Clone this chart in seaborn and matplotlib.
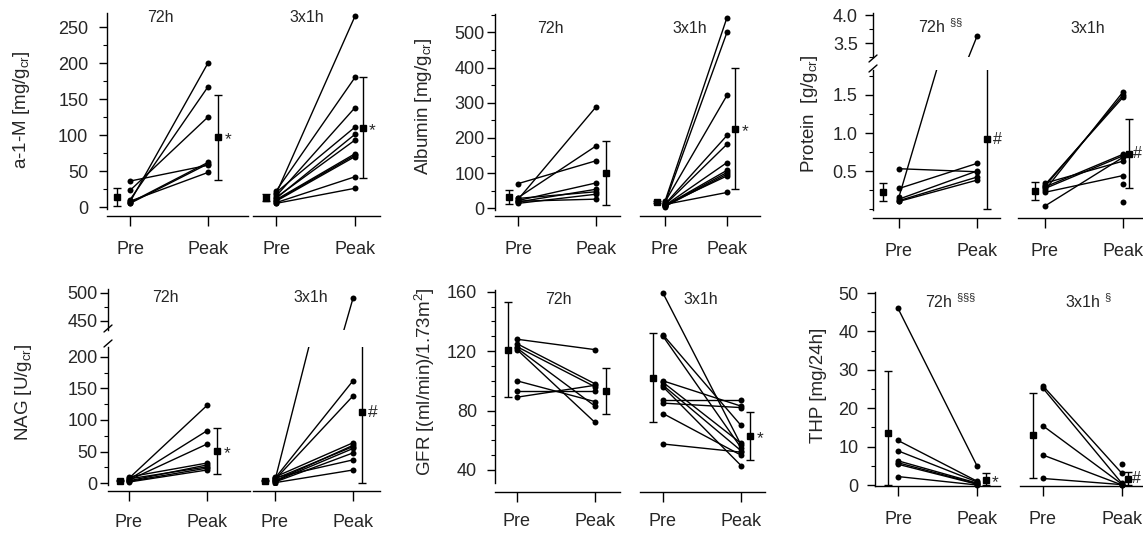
import numpy as np
import pandas as pd
import seaborn as sns
import matplotlib.pyplot as plt
from matplotlib.lines import Line2D
from matplotlib.ticker import FixedLocator, FormatStrFormatter

# ---- values (Pre -> Peak per subject, group mean and SD) ----
a1m_72h_pre = [7, 10, 23, 36, 6, 5, 8]
a1m_72h_peak = [200, 167, 125, 58, 62, 60, 48]
a1m_72h_mean = [14, 97]
a1m_72h_sd = [12, 59]
a1m_3x_pre = [18, 22, 15, 20, 12, 13, 10, 9, 8, 6, 5]
a1m_3x_peak = [265, 180, 138, 111, 101, 93, 74, 72, 70, 42, 26]
a1m_3x_mean = [13, 110]
a1m_3x_sd = [5, 70]

alb_72h_pre = [70, 25, 30, 22, 18, 28, 14, 20]
alb_72h_peak = [135, 288, 177, 72, 54, 47, 40, 26]
alb_72h_mean = [32, 100]
alb_72h_sd = [20, 92]
alb_3x_pre = [20, 15, 18, 12, 10, 8, 7, 6, 5, 9, 11]
alb_3x_peak = [542, 500, 321, 207, 182, 130, 108, 102, 97, 92, 45]
alb_3x_mean = [17, 226]
alb_3x_sd = [3, 172]

prot_72h_pre = [0.53, 0.27, 0.13, 0.11, 0.10, 0.16]
prot_72h_peak = [0.49, 0.60, 0.50, 0.42, 0.38, 3.62]
prot_72h_mean = [0.22, 0.92]
prot_72h_sd = [0.12, 1.26]
prot_3x_pre = [0.25, 0.30, 0.32, 0.29, 0.27, 0.04, 0.34, 0.22, np.nan, np.nan]
prot_3x_peak = [1.54, 1.50, 1.47, 0.72, 0.70, 0.68, 0.63, 0.44, 0.33, 0.09]
prot_3x_mean = [0.24, 0.73]
prot_3x_sd = [0.12, 0.45]

nag_72h_pre = [8, 6, 5, 10, 4, 7, 3, 2]
nag_72h_peak = [123, 83, 62, 32, 29, 26, 24, 21]
nag_72h_mean = [4, 51]
nag_72h_sd = [1, 36]
nag_3x_pre = [5, 8, 6, 10, 4, 7, 3, 2, 9, 1]
nag_3x_peak = [490, 162, 138, 64, 60, 58, 55, 48, 37, 21]
nag_3x_mean = [4, 112]
nag_3x_sd = [1, 135]

gfr_72h_pre = [128, 125, 123, 122, 121, 100, 93, 89]
gfr_72h_peak = [121, 98, 96, 83, 72, 86, 93, 97]
gfr_72h_mean = [121, 93]
gfr_72h_sd = [32, 15.5]
gfr_3x_pre = [159, 131, 130, 100, 99, 97, 96, 87, 85, 78, 57.5]
gfr_3x_peak = [57, 70, 55, 83, 58, 53, 43, 87, 82, 50, 52]
gfr_3x_mean = [102, 63]
gfr_3x_sd = [30, 16]

thp_72h_pre = [46, 11.6, 8.9, 6.3, 5.8, 5.4, 2.2]
thp_72h_peak = [5.0, 1.0, 0.8, 0.5, 0.3, 0.2, 0.0]
thp_72h_mean = [13.5, 1.4]
thp_72h_sd = [16.2, 1.6]
thp_3x_pre = [25.8, 25.2, 15.4, 7.8, 1.7, np.nan]
thp_3x_peak = [3.0, 0.4, 0.2, 0.0, 0.1, 5.4]
thp_3x_mean = [12.9, 1.6]
thp_3x_sd = [11, 1.8]

time_labels = ['Pre', 'Peak']

sns.set_theme(style='ticks')
plt.rcParams['font.family'] = ['Liberation Sans', 'DejaVu Sans']
plt.rcParams['mathtext.fontset'] = 'custom'
plt.rcParams['mathtext.rm'] = 'Liberation Sans'
plt.rcParams['mathtext.it'] = 'Liberation Sans:italic'
plt.rcParams['mathtext.bf'] = 'Liberation Sans:bold'
plt.rcParams['mathtext.default'] = 'regular'

W, H = 1143, 533
fig = plt.figure(figsize=(W / 100, H / 100), dpi=100)
fig.patch.set_facecolor('white')


def make_ax(xs, top, bottom, ymap):
    # xs = (left, right, pre tick, peak tick) in pixels; ymap = (value, pixel, px per unit)
    left, right, pre_px, peak_px = xs
    ax = fig.add_axes([left / W, 1 - bottom / H, (right - left) / W, (bottom - top) / H])
    ax.set_facecolor('none')
    s = peak_px - pre_px
    v0, y0, sc = ymap
    ax.set_xlim((left - pre_px) / s, (right - pre_px) / s)
    ax.set_ylim(v0 + (y0 - bottom) / sc, v0 + (y0 - top) / sc)
    return ax


def long_df(pre, peak):
    n = len(pre)
    return pd.DataFrame({
        'subject': list(range(n)) * 2,
        'time': [0] * n + [1] * n,
        'value': list(pre) + list(peak),
    }).dropna()


def draw_lines(ax, pre, peak):
    xl, yl = ax.get_xlim(), ax.get_ylim()
    sns.lineplot(data=long_df(pre, peak), x='time', y='value', units='subject',
                 estimator=None, color='black', lw=1.0, marker='o', markersize=4.3,
                 markeredgewidth=0, ax=ax, legend=False)
    ax.set_xlim(xl)
    ax.set_ylim(yl)
    ax.set_xlabel('')
    ax.set_ylabel('')


def draw_means(ax, mean, sd, offs, sym, sym_dx=4.5, sym_size=12.5):
    mean = np.asarray(mean, dtype=float)
    sd = np.asarray(sd, dtype=float)
    xm = [offs[0], 1 + offs[1]]
    ax.errorbar(xm, mean, yerr=[np.minimum(sd, mean), sd], fmt='s', color='black',
                ms=4.6, lw=1.0, capsize=2.6, capthick=1.0)
    if sym:
        ax.annotate(sym, (xm[1], mean[1]), xytext=(sym_dx, -2 if sym == '*' else 0),
                    textcoords='offset points', ha='left', va='center', fontsize=sym_size)


def style(ax, yaxis=True, xaxis=True, off_px=0, major=None, minor=None, fmt=None,
          ypad=3.5, xpad=10):
    for side in ['top', 'right']:
        ax.spines[side].set_visible(False)
    for side in ['left', 'bottom']:
        ax.spines[side].set_color('black')
        ax.spines[side].set_linewidth(1.0)
    if yaxis:
        ax.yaxis.set_major_locator(FixedLocator(major))
        ax.yaxis.set_minor_locator(FixedLocator(minor))
        if fmt:
            ax.yaxis.set_major_formatter(FormatStrFormatter(fmt))
        ax.tick_params(axis='y', which='major', direction='out', length=5.5, width=1.0,
                       labelsize=13, pad=ypad, color='black')
        ax.tick_params(axis='y', which='minor', direction='out', length=3, width=0.8,
                       color='black')
    else:
        ax.spines['left'].set_visible(False)
        ax.tick_params(axis='y', which='both', left=False, labelleft=False)
    if xaxis:
        ax.spines['bottom'].set_position(('outward', off_px * 0.72))
        ax.set_xticks([0, 1], time_labels)
        ax.tick_params(axis='x', which='major', direction='out', length=7.5, width=1.0,
                       labelsize=13, pad=xpad, color='black')
    else:
        ax.spines['bottom'].set_visible(False)
        ax.tick_params(axis='x', which='both', bottom=False, labelbottom=False)
    ax.grid(False)


def unclip(ax):
    for art in ax.lines + ax.collections:
        art.set_clip_on(False)


def fig_line(x0, y0, x1, y1):
    fig.add_artist(Line2D([x0 / W, x1 / W], [1 - y0 / H, 1 - y1 / H], color='black',
                          lw=1.0, transform=fig.transFigure))


def title(x, y, s):
    fig.text(x / W, 1 - y / H, s, ha='left', va='baseline', fontsize=11.5)


def ylabel(x, y, s):
    fig.text(x / W, 1 - y / H, s, rotation=90, ha='center', va='center', fontsize=13.5)


# ---------- a-1-M ----------
ymap = (0, 207, 0.72)
ax = make_ax((107, 248, 130, 208), 13, 209, ymap)
draw_lines(ax, a1m_72h_pre, a1m_72h_peak)
draw_means(ax, a1m_72h_mean, a1m_72h_sd, (-0.167, 0.128), '*')
style(ax, True, True, 7, np.arange(0, 251, 50), np.arange(25, 270, 50), ypad=8, xpad=10.3)
unclip(ax)
ax = make_ax((253, 380, 276, 355), 13, 209, ymap)
draw_lines(ax, a1m_3x_pre, a1m_3x_peak)
draw_means(ax, a1m_3x_mean, a1m_3x_sd, (-0.127, 0.10), '*')
style(ax, False, True, 7, xpad=10.3)
unclip(ax)
ylabel(22, 110, 'a-1-M [mg/g$_{cr}$]')
title(147, 21.5, '72h')
title(289, 21.5, '3x1h')

# ---------- Albumin ----------
ymap = (0, 208.3, 0.352)
ax = make_ax((495, 620, 518, 596), 14, 210, ymap)
draw_lines(ax, alb_72h_pre, alb_72h_peak)
draw_means(ax, alb_72h_mean, alb_72h_sd, (-0.115, 0.128), '')
style(ax, True, True, 6, np.arange(0, 501, 100), np.arange(50, 551, 100), ypad=2, xpad=10.8)
unclip(ax)
ax = make_ax((640, 760, 665, 727), 14, 210, ymap)
draw_lines(ax, alb_3x_pre, alb_3x_peak)
draw_means(ax, alb_3x_mean, alb_3x_sd, (-0.13, 0.13), '*')
style(ax, False, True, 6, xpad=10.8)
unclip(ax)
ylabel(423, 106, 'Albumin [mg/g$_{cr}$]')
title(537, 32.5, '72h')
title(672, 32.5, '3x1h')

# ---------- Protein (broken axis) ----------
low_map = (0.5, 171, 76)
up_map = (3.5, 43, 56)
for xs, pre, peak, mean, sd, offs, yax, dx in [
        ((873, 1000, 899, 977), prot_72h_pre, prot_72h_peak, prot_72h_mean, prot_72h_sd,
         (-0.205, 0.128), True, 4.5),
        ((1018, 1143, 1045, 1123), prot_3x_pre, prot_3x_peak, prot_3x_mean, prot_3x_sd,
         (-0.128, 0.08), False, 2.5)]:
    ax = make_ax(xs, 70, 210, low_map)
    draw_lines(ax, pre, peak)
    draw_means(ax, mean, sd, offs, '#', sym_dx=dx, sym_size=11.5)
    style(ax, yax, True, 8, [0.5, 1.0, 1.5], [0.0, 0.25, 0.75, 1.25, 1.75], '%.1f',
          ypad=5.5, xpad=10.3)
    ax = make_ax(xs, 13, 57, up_map)
    draw_lines(ax, pre, peak)
    style(ax, yax, False, 0, [3.5, 4.0], [3.25, 3.75], '%.1f', ypad=5.5)
fig_line(869, 62, 877, 55)
fig_line(869, 72, 877, 65)
ylabel(810, 114, 'Protein  [g/g$_{cr}$]')
title(918, 32.5, r'72h $^{\S\S}$')
title(1070, 32.5, '3x1h')

# ---------- NAG (broken axis) ----------
low_map = (0, 483.3, 0.633)
up_map = (500, 292.7, 0.56)
for xs, pre, peak, mean, sd, offs, sym, yax in [
        ((108, 250, 129, 207), nag_72h_pre, nag_72h_peak, nag_72h_mean, nag_72h_sd,
         (-0.115, 0.128), '*', True),
        ((253, 380, 275, 353), nag_3x_pre, nag_3x_peak, nag_3x_mean, nag_3x_sd,
         (-0.128, 0.115), '#', False)]:
    ax = make_ax(xs, 347, 485, low_map)
    draw_lines(ax, pre, peak)
    draw_means(ax, mean, sd, offs, sym)
    style(ax, yax, True, 6, np.arange(0, 201, 50), np.arange(25, 216, 50), ypad=2, xpad=9.3)
    ax = make_ax(xs, 289, 330, up_map)
    draw_lines(ax, pre, peak)
    style(ax, yax, False, 0, [450, 500], [475], ypad=2)
fig_line(104, 332, 112, 325)
fig_line(104, 347, 112, 340)
ylabel(23, 392, 'NAG [U/g$_{cr}$]')
title(152, 302.5, '72h')
title(293, 302.5, '3x1h')

# ---------- GFR ----------
ymap = (40, 470, 1.486)
ax = make_ax((495, 620, 517, 595), 290, 483, ymap)
draw_lines(ax, gfr_72h_pre, gfr_72h_peak)
draw_means(ax, gfr_72h_mean, gfr_72h_sd, (-0.115, 0.14), '')
style(ax, True, True, 9, np.arange(40, 161, 40), np.arange(40, 161, 10), ypad=7.5, xpad=7.3)
unclip(ax)
ax = make_ax((640, 765, 663, 741), 290, 483, ymap)
draw_lines(ax, gfr_3x_pre, gfr_3x_peak)
draw_means(ax, gfr_3x_mean, gfr_3x_sd, (-0.128, 0.115), '*')
style(ax, False, True, 9, xpad=7.3)
unclip(ax)
ylabel(425, 382, 'GFR [(ml/min)/1.73m$^2$]')
title(545, 304.5, '72h')
title(683, 304.5, '3x1h')

# ---------- THP ----------
ymap = (0, 485, 3.84)
ax = make_ax((875, 1000, 898, 977), 292, 486, ymap)
draw_lines(ax, thp_72h_pre, thp_72h_peak)
draw_means(ax, thp_72h_mean, thp_72h_sd, (-0.127, 0.11), '*')
style(ax, True, True, 0, np.arange(0, 51, 10), np.arange(5, 50, 10), ypad=6.5, xpad=10.5)
unclip(ax)
ax = make_ax((1020, 1143, 1043, 1122), 292, 486, ymap)
draw_lines(ax, thp_3x_pre, thp_3x_peak)
draw_means(ax, thp_3x_mean, thp_3x_sd, (-0.127, 0.08), '#', sym_dx=2.5, sym_size=11.5)
style(ax, False, True, 0, xpad=10.5)
unclip(ax)
ylabel(819, 385, 'THP [mg/24h]')
title(925, 307.5, r'72h $^{\S\S\S}$')
title(1065, 307.5, r'3x1h $^{\S}$')

fig.savefig('out.png', dpi=100, facecolor='white')
